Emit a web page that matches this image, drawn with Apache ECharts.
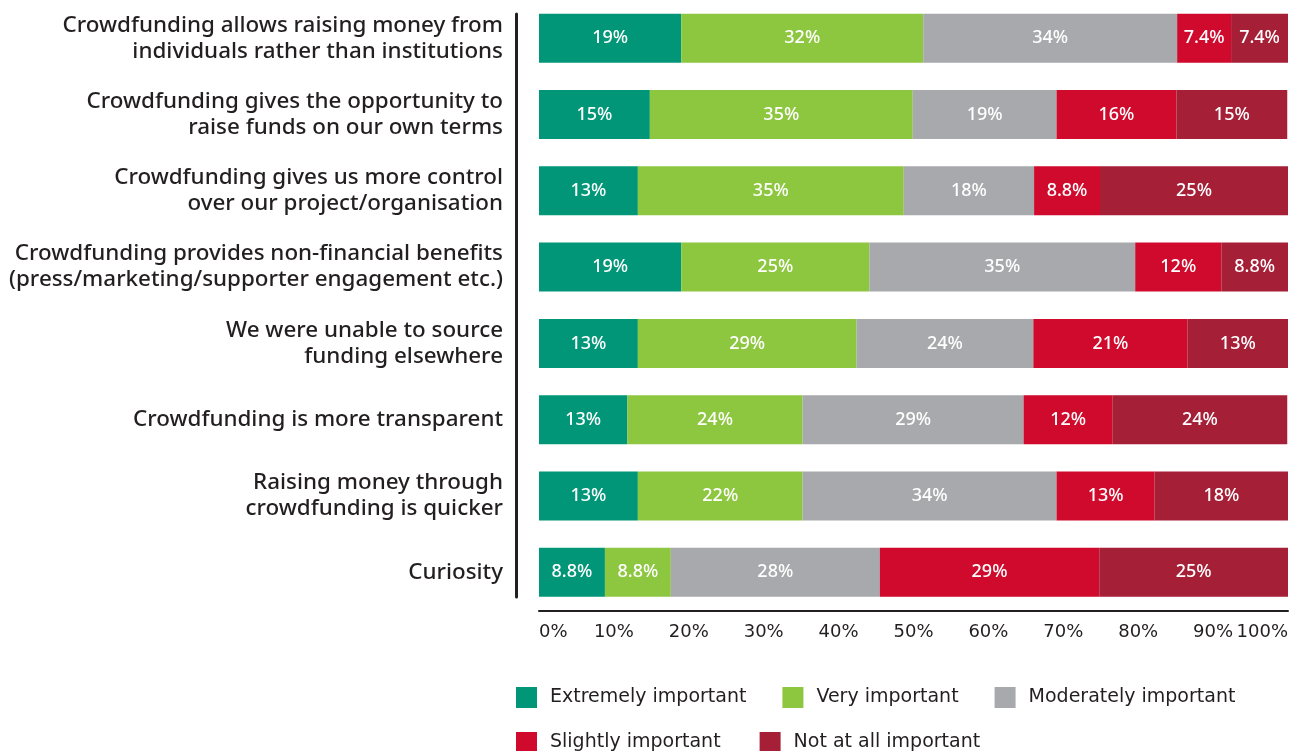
<!DOCTYPE html>
<html lang="en">

<head>
    <meta charset="UTF-8">
    <title>Crowdfunding motivations</title>
    <script src="https://cdn.jsdelivr.net/npm/echarts@6/dist/echarts.min.js"></script>
    <style>
        html, body { margin: 0; padding: 0; background: #fff; }
        #chart { width: 1299px; height: 751px; }
    </style>
</head>

<body>
    <div id="chart"></div>
    <script>
        // categories, top to bottom
        var categories = [
            'Crowdfunding allows raising money from\nindividuals rather than institutions',
            'Crowdfunding gives the opportunity to\nraise funds on our own terms',
            'Crowdfunding gives us more control\nover our project/organisation',
            'Crowdfunding provides non-financial benefits\n(press/marketing/supporter engagement etc.)',
            'We were unable to source\nfunding elsewhere',
            'Crowdfunding is more transparent',
            'Raising money through\ncrowdfunding is quicker',
            'Curiosity'
        ];

        // bar lengths (share of respondents, %)
        var extremely = [19.0, 14.8, 13.2, 19.0, 13.2, 11.8, 13.2, 8.8];
        var very = [32.3, 35.1, 35.5, 25.1, 29.2, 23.4, 22.0, 8.8];
        var moderately = [33.9, 19.2, 17.4, 35.5, 23.6, 29.5, 33.9, 27.9];
        var slightly = [7.2, 16.0, 8.8, 11.5, 20.6, 11.9, 13.1, 29.3];
        var notAtAll = [7.6, 14.8, 25.1, 8.9, 13.4, 23.3, 17.8, 25.2];

        // the numbers printed on the bars
        var extremelyLabels = [19, 15, 13, 19, 13, 13, 13, 8.8];
        var veryLabels = [32, 35, 35, 25, 29, 24, 22, 8.8];
        var moderatelyLabels = [34, 19, 18, 35, 24, 29, 34, 28];
        var slightlyLabels = [7.4, 16, 8.8, 12, 21, 12, 13, 29];
        var notAtAllLabels = [7.4, 15, 25, 8.8, 13, 24, 18, 25];

        var seriesNames = ['Extremely important', 'Very important', 'Moderately important',
            'Slightly important', 'Not at all important'];
        var colors = ['#009677', '#8dc63f', '#a7a9ac', '#cf0a2c', '#a51f36'];

        var FONT = '"DejaVu Sans", sans-serif';
        var CAT_FONT = '"Noto Sans", sans-serif';
        var INK = '#231f20';

        var myChart = echarts.init(document.getElementById('chart'));

        function makeSeries(idx, values, labels) {
            return {
                name: seriesNames[idx],
                type: 'bar',
                stack: 'total',
                barWidth: 49,
                itemStyle: { color: colors[idx] },
                label: {
                    show: true,
                    position: 'inside',
                    color: '#fff',
                    fontFamily: CAT_FONT,
                    fontWeight: 500,
                    fontSize: 18,
                    formatter: function (p) {
                        return labels[p.dataIndex] + '%';
                    }
                },
                data: values
            };
        }

        var legendText = {
            color: INK,
            fontFamily: FONT,
            fontSize: 19,
            padding: [0, 0, 0, 8]
        };

        var option = {
            animation: false,
            color: colors,
            grid: [{
                left: 539,
                right: 11,
                top: 0,
                bottom: 140.5
            }, {
                // only carries the short vertical rule left of the bars
                left: 516,
                width: 10,
                top: 14,
                height: 583
            }],
            legend: [{
                left: 516,
                top: 687,
                padding: 0,
                itemWidth: 21,
                itemHeight: 21,
                itemGap: 36,
                icon: 'rect',
                textStyle: legendText,
                data: seriesNames.slice(0, 3)
            }, {
                left: 516,
                top: 732,
                padding: 0,
                itemWidth: 21,
                itemHeight: 21,
                itemGap: 39,
                icon: 'rect',
                textStyle: legendText,
                data: seriesNames.slice(3)
            }],
            xAxis: [{
                type: 'value',
                min: 0,
                max: 100,
                interval: 10,
                axisLine: { show: true, lineStyle: { color: INK, width: 2 } },
                axisTick: { show: false },
                splitLine: { show: false },
                axisLabel: {
                    formatter: '{value}%',
                    color: INK,
                    fontFamily: FONT,
                    fontSize: 18,
                    margin: 13,
                    alignMinLabel: 'left',
                    alignMaxLabel: 'right'
                }
            }, {
                gridIndex: 1,
                type: 'value',
                show: false
            }],
            yAxis: [{
                type: 'category',
                inverse: true,
                data: categories,
                axisLine: { show: false },
                axisTick: { show: false },
                axisLabel: {
                    color: INK,
                    fontFamily: CAT_FONT,
                    fontWeight: 500,
                    fontSize: 22.4,
                    lineHeight: 26,
                    align: 'right',
                    margin: 36
                }
            }, {
                gridIndex: 1,
                type: 'value',
                axisLine: { show: true, lineStyle: { color: INK, width: 3 } },
                axisTick: { show: false },
                axisLabel: { show: false },
                splitLine: { show: false }
            }],
            series: [
                makeSeries(0, extremely, extremelyLabels),
                makeSeries(1, very, veryLabels),
                makeSeries(2, moderately, moderatelyLabels),
                makeSeries(3, slightly, slightlyLabels),
                makeSeries(4, notAtAll, notAtAllLabels)
            ]
        };

        myChart.setOption(option);
    </script>
</body>

</html>
